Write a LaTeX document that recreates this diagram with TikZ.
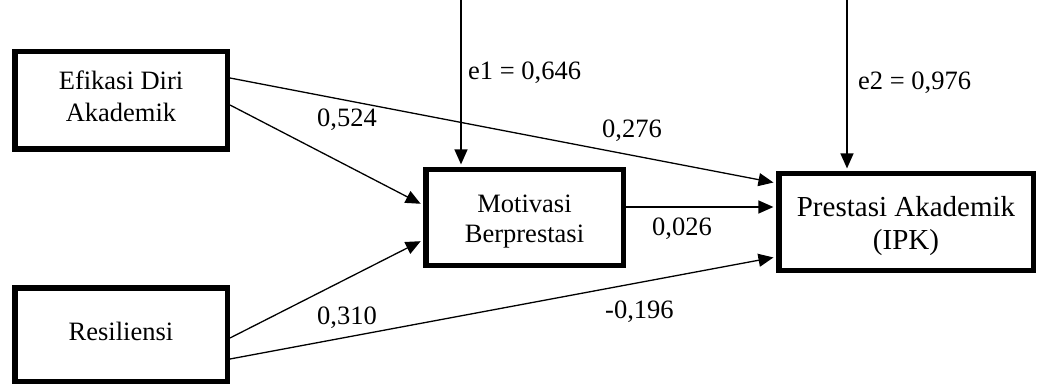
\documentclass[tikz,border=0pt]{standalone}
\usepackage{fontspec}
\setmainfont{Liberation Serif}
\usetikzlibrary{arrows.meta,calc}
\begin{document}
\begin{tikzpicture}[x=1pt,y=-1pt,
  every node/.style={font=\fontsize{26.5}{31}\selectfont},
  var/.style={draw=black,line width=5.5pt,fill=white,inner sep=0pt,align=center},
  tx/.style 2 args={text height=#1,text depth=#2},
  path/.style={line width=1.3pt,-{Triangle[length=15pt,width=13pt]},shorten >=2.6pt},
  coef/.style={anchor=base west,inner sep=0pt}]
\useasboundingbox (0,0) rectangle (1037,385);

% variables (text height/depth fix the last baseline inside each box)
\node[var,tx={45pt}{2pt},font=\fontsize{26.5}{32.5}\selectfont,
  minimum width=212.5pt,minimum height=97.5pt] (ef) at (121,100.5) {Efikasi Diri\\Akademik};
\node[var,tx={16pt}{5pt},
  minimum width=212.5pt,minimum height=93.5pt] (re) at (121,334.5) {Resiliensi};
\node[var,tx={52pt}{3pt},font=\fontsize{26.5}{29}\selectfont,
  minimum width=197.5pt,minimum height=95.5pt] (mo) at (524.5,217.5) {Motivasi\\Berprestasi};
\node[var,tx={58pt}{2pt},font=\fontsize{29}{33}\selectfont,
  minimum width=254.5pt,minimum height=96.5pt] (pr) at (906,222) {Prestasi Akademik\\(IPK)};

% error terms enter from above
\coordinate (e1top) at (461,0);
\coordinate (e2top) at (847,0);

% paths
\draw[path] ($(ef.east)+(0,-22.5)$) -- ($(pr.west)+(0,-39)$);
\draw[path] ($(ef.east)+(0,4.5)$) -- ($(mo.west)+(0,-12.5)$);
\draw[path] ($(mo.east)+(0,-10.5)$) -- ($(pr.west)+(0,-15)$);
\draw[path] ($(re.east)+(0,3.5)$) -- ($(mo.west)+(0,22.5)$);
\draw[path] ($(re.east)+(0,24.5)$) -- ($(pr.west)+(0,35)$);
\draw[path] (e1top) -- ($(mo.north)+(-63.5,0)$);
\draw[path] (e2top) -- ($(pr.north)+(-59,0)$);

% coefficients
\node[coef] (le1) at (468,80) {e1 = 0,646};
\node[coef] (le2) at (858,90) {e2 = 0,976};
\node[coef] (c1) at (317,127) {0,524};
\node[coef] (c2) at (602,138) {0,276};
\node[coef] (c3) at (652,235) {0,026};
\node[coef] (c4) at (317,324) {0,310};
\node[coef] (c5) at (605,318) {-0,196};
\end{tikzpicture}
\end{document}
